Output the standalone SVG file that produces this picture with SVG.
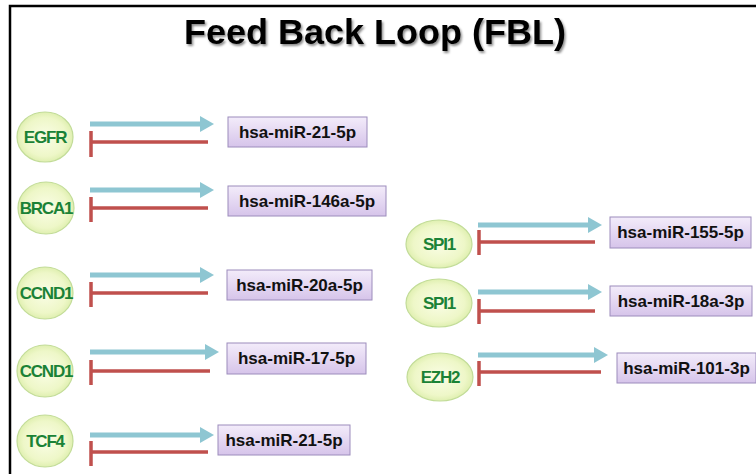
<svg xmlns="http://www.w3.org/2000/svg" width="756" height="474" viewBox="0 0 756 474">
<style>
.title{font-family:"Liberation Sans",Arial,sans-serif;font-weight:bold;font-size:35px;fill:#000}
.gene{fill:url(#gEll);stroke:#c2dc98;stroke-width:1.2}
.gtxt{font-family:"Liberation Sans",Arial,sans-serif;font-weight:bold;font-size:17px;fill:#1b8236;text-anchor:middle;letter-spacing:-1.2px}
.mir{fill:url(#gBox);stroke:#9c8cbc;stroke-width:1}
.mtxt{font-family:"Liberation Sans",Arial,sans-serif;font-weight:bold;font-size:17px;fill:#111;text-anchor:middle}
.act{stroke:#8ec6d2;stroke-width:5;fill:none}
.inh{stroke:#c0504d;stroke-width:3.5;fill:none}
.ah{fill:#8ec6d2}
</style>
<defs>
<radialGradient id="gEll" cx="50%" cy="50%" r="55%">
<stop offset="0" stop-color="#fafde6"/>
<stop offset="0.7" stop-color="#eef7c8"/>
<stop offset="1" stop-color="#d9eca6"/>
</radialGradient>
<linearGradient id="gBox" x1="0" y1="0" x2="0" y2="1">
<stop offset="0" stop-color="#f3ecfa"/>
<stop offset="1" stop-color="#d6c4ea"/>
</linearGradient>
<filter id="sh" x="-10%" y="-20%" width="120%" height="150%">
<feDropShadow dx="1.5" dy="2" stdDeviation="1.2" flood-color="#000" flood-opacity="0.45"/>
</filter>
</defs>
<rect width="756" height="474" fill="#fff"/>
<path d="M10,474 V6 H756" fill="none" stroke="#000" stroke-width="2.5"/>
<text class="title" x="375" y="44" text-anchor="middle" textLength="382" lengthAdjust="spacingAndGlyphs" filter="url(#sh)">Feed Back Loop (FBL)</text>

<g id="connectors">
<path class="act" d="M90,124 H202"/><path class="ah" d="M200,116 L214,124 L200,132 Z"/>
<path class="inh" d="M208,142 H91 M91,131 V157"/>
<path class="act" d="M90,190 H202"/><path class="ah" d="M200,182 L214,190 L200,198 Z"/>
<path class="inh" d="M208,208 H91 M91,197 V222"/>
<path class="act" d="M90,275 H202"/><path class="ah" d="M200,267 L214,275 L200,283 Z"/>
<path class="inh" d="M208,293 H91 M91,282 V307"/>
<path class="act" d="M90,352 H207"/><path class="ah" d="M205,344 L219,352 L205,360 Z"/>
<path class="inh" d="M210,371 H91 M91,360 V385"/>
<path class="act" d="M90,435 H202"/><path class="ah" d="M200,427 L214,435 L200,443 Z"/>
<path class="inh" d="M208,452 H91 M91,441 V466"/>
<path class="act" d="M478,225 H590"/><path class="ah" d="M588,217 L602,225 L588,233 Z"/>
<path class="inh" d="M595,242 H479 M479,230 V255"/>
<path class="act" d="M478,292 H590"/><path class="ah" d="M588,284 L602,292 L588,300 Z"/>
<path class="inh" d="M595,311 H479 M479,299 V324"/>
<path class="act" d="M478,355 H596"/><path class="ah" d="M594,347 L608,355 L594,363 Z"/>
<path class="inh" d="M601,372 H479 M479,361 V386"/>
</g>

<g id="n-egfr"><ellipse class="gene" cx="45" cy="137" rx="28" ry="25"/><text class="gtxt" x="45" y="143">EGFR</text></g>
<g id="m-21-5p-a"><rect class="mir" x="228" y="117" width="139" height="30"/><text class="mtxt" x="297.5" y="138">hsa-miR-21-5p</text></g>

<g id="n-brca1"><ellipse class="gene" cx="46" cy="208" rx="28" ry="26"/><text class="gtxt" x="46" y="214">BRCA1</text></g>
<g id="m-146a-5p"><rect class="mir" x="228" y="186" width="158" height="30"/><text class="mtxt" x="307" y="207">hsa-miR-146a-5p</text></g>

<g id="n-ccnd1-a"><ellipse class="gene" cx="45" cy="293" rx="28" ry="26"/><text class="gtxt" x="46" y="299">CCND1</text></g>
<g id="m-20a-5p"><rect class="mir" x="227" y="270" width="145" height="30"/><text class="mtxt" x="299.5" y="291">hsa-miR-20a-5p</text></g>

<g id="n-ccnd1-b"><ellipse class="gene" cx="45" cy="371" rx="28" ry="26"/><text class="gtxt" x="46" y="377">CCND1</text></g>
<g id="m-17-5p"><rect class="mir" x="227" y="343" width="139" height="31"/><text class="mtxt" x="296.5" y="364">hsa-miR-17-5p</text></g>

<g id="n-tcf4"><ellipse class="gene" cx="45" cy="441" rx="28" ry="26"/><text class="gtxt" x="45" y="447">TCF4</text></g>
<g id="m-21-5p-b"><rect class="mir" x="218" y="425" width="132" height="30"/><text class="mtxt" x="284" y="446">hsa-miR-21-5p</text></g>

<g id="n-spi1-a"><ellipse class="gene" cx="439" cy="244" rx="33" ry="24"/><text class="gtxt" x="439" y="250">SPI1</text></g>
<g id="m-155-5p"><rect class="mir" x="610" y="217" width="141" height="31"/><text class="mtxt" x="680.5" y="238">hsa-miR-155-5p</text></g>

<g id="n-spi1-b"><ellipse class="gene" cx="439" cy="303" rx="33" ry="24"/><text class="gtxt" x="439" y="309">SPI1</text></g>
<g id="m-18a-3p"><rect class="mir" x="610" y="286" width="142" height="30"/><text class="mtxt" x="681" y="307">hsa-miR-18a-3p</text></g>

<g id="n-ezh2"><ellipse class="gene" cx="440" cy="377" rx="33" ry="24"/><text class="gtxt" x="440" y="383">EZH2</text></g>
<g id="m-101-3p"><rect class="mir" x="617" y="353" width="139" height="30"/><text class="mtxt" x="686.5" y="374">hsa-miR-101-3p</text></g>
</svg>
